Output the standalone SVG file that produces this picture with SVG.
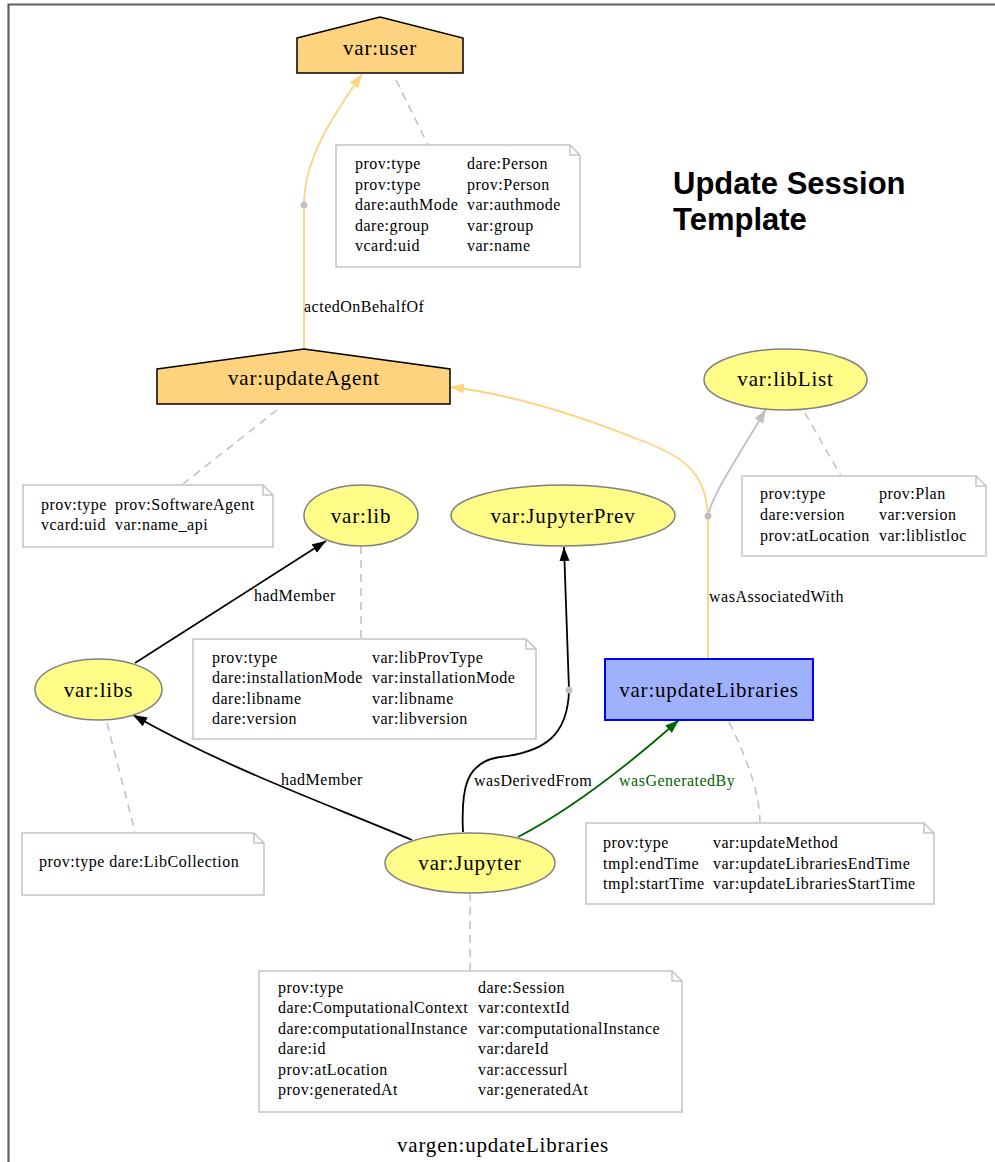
<svg xmlns="http://www.w3.org/2000/svg" width="995" height="1162" viewBox="0 0 995 1162">
<style>
.lbl{font-family:"Liberation Serif","Times New Roman",serif;font-size:21px;letter-spacing:0.8px;fill:#000;text-anchor:middle}
.nt{font-family:"Liberation Serif","Times New Roman",serif;font-size:16px;letter-spacing:0.5px;fill:#000}
.note{fill:#fff;stroke:#c4c4c4;stroke-width:1.5}
.dash{fill:none;stroke:#c0c0c0;stroke-width:1.5;stroke-dasharray:8,6}
.agent{fill:#FED37F;stroke:#000;stroke-width:1.5}
.entity{fill:#FFFC87;stroke:#808080;stroke-width:1.5}
.activity{fill:#9FB1FC;stroke:#0000FF;stroke-width:2}
.e{fill:none;stroke-width:1.8}
.dot{fill:#c0c0c0}
.title{font-family:"Liberation Sans",Arial,sans-serif;font-size:31px;font-weight:bold;fill:#000}
</style>
<defs>
<marker id="aBlack" markerUnits="userSpaceOnUse" markerWidth="15" markerHeight="11" refX="14" refY="5" orient="auto"><path d="M0,0 L14,5 L0,10 z" fill="#000"/></marker>
<marker id="aOrange" markerUnits="userSpaceOnUse" markerWidth="15" markerHeight="11" refX="14" refY="5" orient="auto"><path d="M0,0 L14,5 L0,10 z" fill="#FED37F"/></marker>
<marker id="aGray" markerUnits="userSpaceOnUse" markerWidth="15" markerHeight="11" refX="14" refY="5" orient="auto"><path d="M0,0 L14,5 L0,10 z" fill="#c0c0c0"/></marker>
<marker id="aGreen" markerUnits="userSpaceOnUse" markerWidth="15" markerHeight="11" refX="14" refY="5" orient="auto"><path d="M0,0 L14,5 L0,10 z" fill="#006400"/></marker>
</defs>
<rect width="995" height="1162" fill="#fff"/>
<path d="M8.5,1162 L8.5,4.5 L995,4.5" fill="none" stroke="#606060" stroke-width="2.2"/>

<g id="title">
<text class="title" x="673" y="194">Update Session</text>
<text class="title" x="673" y="230">Template</text>
</g>

<g id="connectors">
<path class="dash" d="M396,80 L428,145"/>
<path class="dash" d="M277,410 L183,484"/>
<path class="dash" d="M805,413 L841,476"/>
<path class="dash" d="M361,546 L361,639"/>
<path class="dash" d="M107,723 L135,832"/>
<path class="dash" d="M729,722 C748,760 760,795 760,823"/>
<path class="dash" d="M470,893 L470,970"/>

<path class="e" stroke="#FED37F" d="M304,349 L304,205 C304,160 330,120 362,74" marker-end="url(#aOrange)"/>
<circle class="dot" cx="304" cy="205" r="3.5"/>
<text class="nt" x="304" y="312">actedOnBehalfOf</text>

<path class="e" stroke="#FED37F" d="M708,658 L708,516 C706,470 680,455 640,440 C590,420 520,395 450,387" marker-end="url(#aOrange)"/>
<path class="e" stroke="#c0c0c0" d="M708,516 C712,495 735,462 766,409" marker-end="url(#aGray)"/>
<circle class="dot" cx="708" cy="516" r="3.5"/>
<text class="nt" x="709" y="602">wasAssociatedWith</text>

<path class="e" stroke="#000" d="M135,663 L326,541" marker-end="url(#aBlack)"/>
<text class="nt" x="254" y="601">hadMember</text>

<path class="e" stroke="#000" d="M412,840 C330,805 230,770 133,715" marker-end="url(#aBlack)"/>
<text class="nt" x="281" y="785">hadMember</text>

<path class="e" stroke="#000" d="M463,832 C461,790 465,762 500,757 C545,752 568,735 569,690 L564,547" marker-end="url(#aBlack)"/>
<circle class="dot" cx="569" cy="690" r="3.5"/>
<text class="nt" x="474" y="786">wasDerivedFrom</text>

<path class="e" stroke="#006400" d="M518,837 C545,823 600,790 679,720" marker-end="url(#aGreen)"/>
<text class="nt" x="619" y="786" fill="#006400" style="fill:#006400">wasGeneratedBy</text>
</g>

<g id="var-user">
<path class="agent" d="M297,38 L380,17 L463,38 L463,73 L297,73 Z"/>
<text class="lbl" x="380" y="55">var:user</text>
</g>
<g id="note-user">
<path class="note" d="M336,145 L570,145 L580,155 L580,267 L336,267 Z M570,145 L570,155 L580,155"/>
<text class="nt" x="355" y="169">prov:type</text><text class="nt" x="467" y="169">dare:Person</text>
<text class="nt" x="355" y="190">prov:type</text><text class="nt" x="467" y="190">prov:Person</text>
<text class="nt" x="355" y="210">dare:authMode</text><text class="nt" x="467" y="210">var:authmode</text>
<text class="nt" x="355" y="231">dare:group</text><text class="nt" x="467" y="231">var:group</text>
<text class="nt" x="355" y="251">vcard:uid</text><text class="nt" x="467" y="251">var:name</text>
</g>

<g id="var-updateAgent">
<path class="agent" d="M157,369 L304,349 L450,369 L450,404 L157,404 Z"/>
<text class="lbl" x="304" y="385">var:updateAgent</text>
</g>
<g id="note-updateAgent">
<path class="note" d="M23,485 L263,485 L273,495 L273,547 L23,547 Z M263,485 L263,495 L273,495"/>
<text class="nt" x="41" y="510">prov:type</text><text class="nt" x="115" y="510">prov:SoftwareAgent</text>
<text class="nt" x="41" y="530">vcard:uid</text><text class="nt" x="115" y="530">var:name_api</text>
</g>

<g id="var-libList">
<ellipse class="entity" cx="785.5" cy="379.5" rx="81.5" ry="30.5"/>
<text class="lbl" x="785.5" y="386">var:libList</text>
</g>
<g id="note-libList">
<path class="note" d="M742,476 L976,476 L986,486 L986,556 L742,556 Z M976,476 L976,486 L986,486"/>
<text class="nt" x="760" y="499">prov:type</text><text class="nt" x="879" y="499">prov:Plan</text>
<text class="nt" x="760" y="520">dare:version</text><text class="nt" x="879" y="520">var:version</text>
<text class="nt" x="760" y="541">prov:atLocation</text><text class="nt" x="879" y="541">var:liblistloc</text>
</g>

<g id="var-lib">
<ellipse class="entity" cx="361" cy="515.5" rx="57" ry="30.5"/>
<text class="lbl" x="361" y="523">var:lib</text>
</g>
<g id="note-lib">
<path class="note" d="M193,639 L526,639 L536,649 L536,739 L193,739 Z M526,639 L526,649 L536,649"/>
<text class="nt" x="212" y="663">prov:type</text><text class="nt" x="372" y="663">var:libProvType</text>
<text class="nt" x="212" y="683">dare:installationMode</text><text class="nt" x="372" y="683">var:installationMode</text>
<text class="nt" x="212" y="704">dare:libname</text><text class="nt" x="372" y="704">var:libname</text>
<text class="nt" x="212" y="724">dare:version</text><text class="nt" x="372" y="724">var:libversion</text>
</g>

<g id="var-JupyterPrev">
<ellipse class="entity" cx="563" cy="515.5" rx="112" ry="30.5"/>
<text class="lbl" x="563" y="523">var:JupyterPrev</text>
</g>

<g id="var-updateLibraries">
<rect class="activity" x="605" y="659" width="208" height="61"/>
<text class="lbl" x="709" y="697">var:updateLibraries</text>
</g>
<g id="note-updateLibraries">
<path class="note" d="M586,823 L924,823 L934,833 L934,904 L586,904 Z M924,823 L924,833 L934,833"/>
<text class="nt" x="603" y="848">prov:type</text><text class="nt" x="713" y="848">var:updateMethod</text>
<text class="nt" x="603" y="869">tmpl:endTime</text><text class="nt" x="713" y="869">var:updateLibrariesEndTime</text>
<text class="nt" x="603" y="889">tmpl:startTime</text><text class="nt" x="713" y="889">var:updateLibrariesStartTime</text>
</g>

<g id="var-libs">
<ellipse class="entity" cx="98.5" cy="689.5" rx="63.5" ry="30.5"/>
<text class="lbl" x="98.5" y="697">var:libs</text>
</g>
<g id="note-libs">
<path class="note" d="M22,833 L254,833 L264,843 L264,895 L22,895 Z M254,833 L254,843 L264,843"/>
<text class="nt" x="39" y="867">prov:type dare:LibCollection</text>
</g>

<g id="var-Jupyter">
<ellipse class="entity" cx="470" cy="863" rx="85" ry="30"/>
<text class="lbl" x="470" y="870">var:Jupyter</text>
</g>
<g id="note-Jupyter">
<path class="note" d="M259,971 L672,971 L682,981 L682,1112 L259,1112 Z M672,971 L672,981 L682,981"/>
<text class="nt" x="278" y="993">prov:type</text><text class="nt" x="478" y="993">dare:Session</text>
<text class="nt" x="278" y="1013">dare:ComputationalContext</text><text class="nt" x="478" y="1013">var:contextId</text>
<text class="nt" x="278" y="1034">dare:computationalInstance</text><text class="nt" x="478" y="1034">var:computationalInstance</text>
<text class="nt" x="278" y="1054">dare:id</text><text class="nt" x="478" y="1054">var:dareId</text>
<text class="nt" x="278" y="1075">prov:atLocation</text><text class="nt" x="478" y="1075">var:accessurl</text>
<text class="nt" x="278" y="1095">prov:generatedAt</text><text class="nt" x="478" y="1095">var:generatedAt</text>
</g>

<g id="graph-label">
<text class="lbl" x="503" y="1152">vargen:updateLibraries</text>
</g>
</svg>
